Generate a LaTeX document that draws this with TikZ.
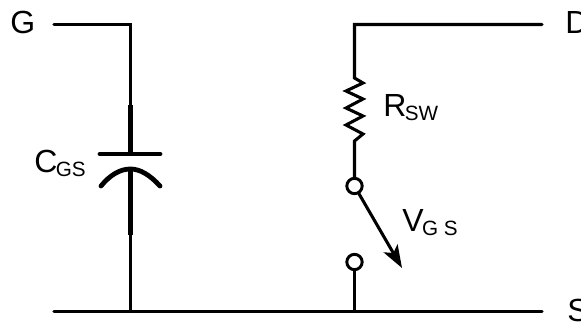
\documentclass[tikz,border=0pt]{standalone}
\usepackage{fontspec}
\setmainfont{Liberation Sans}
\usetikzlibrary{arrows.meta}
\tikzset{
  leadline/.style={line width=2.3pt, line cap=round, line join=miter},
  thickwire/.style={line width=3.1pt, xshift=-0.2pt},
  plate/.style={line width=3.6pt, line cap=round},
  contact/.style={circle, draw, line width=2.2pt, minimum size=11.5pt, inner sep=0pt},
  term/.style={inner sep=0pt, anchor=base west, font=\fontsize{24}{28}\selectfont},
}
\newcommand{\lbl}[2]{#1\kern-1.2pt\raisebox{-3pt}{\fontsize{15.5}{18}\selectfont #2}}
\begin{document}
\begin{tikzpicture}[x=0.75pt, y=-0.75pt]
    \useasboundingbox (0,0) rectangle (581,321);
    % terminals
    \node[term] (g) at (10,34) {G};
    \node[term] (d) at (565,34) {D};
    \node[term] (s) at (567,321) {S};
    \coordinate (gw) at (54,24.5);
    \coordinate (dw) at (542,24.5);
    \coordinate (sw) at (542,311.5);
    \coordinate (bw) at (54,311.5);
    \coordinate (gt) at (130.5,24.5);
    \coordinate (dt) at (354.5,24.5);
    \coordinate (cb) at (130.5,311.5);
    \coordinate (rb) at (354.5,311.5);
    % capacitor
    \coordinate (c1) at (130.5,105);
    \coordinate (c2) at (130.5,154);
    \coordinate (c3) at (130.5,169);
    \coordinate (c4) at (130.5,235);
    \coordinate (pl) at (100,154);
    \coordinate (pr) at (160,154);
    \coordinate (al) at (101,186);
    \coordinate (ar) at (160,186);
    \draw[leadline] (gw) -- (gt) -- (c1);
    \draw[thickwire] (c1) -- (c2);
    \draw[plate] (pl) -- (pr);
    \draw[plate] (al) .. controls (110,175) and (120,169) .. (c3) .. controls (140,169) and (150,175) .. (ar);
    \draw[thickwire] (c3) -- (c4);
    \draw[leadline] (c4) -- (cb);
    \node[term] (cgs) at (34,172) {\lbl{C}{GS}};
    % resistor and switch
    \node[contact] (k1) at (354.5,186) {};
    \node[contact] (k2) at (354.5,262) {};
    \coordinate (r1) at (354.5,78);
    \coordinate (r2) at (354.5,141);
    \draw[leadline] (dw) -- (dt) -- (r1) -- (363,83) -- (346,91) -- (363,99) -- (346,108) -- (363,116) -- (346,125) -- (363,134) -- (r2) -- (k1);
    \node[term] (rsw) at (383,116) {\lbl{R}{SW}};
    \draw[leadline, -{Stealth[length=17pt, width=12pt, inset=4pt]}] (k1) -- (402,268);
    \node[term] (vgs) at (402,231) {\lbl{V}{G S}};
    \draw[leadline] (k2) -- (rb);
    % bottom rail
    \draw[leadline] (bw) -- (sw);
\end{tikzpicture}
\end{document}
